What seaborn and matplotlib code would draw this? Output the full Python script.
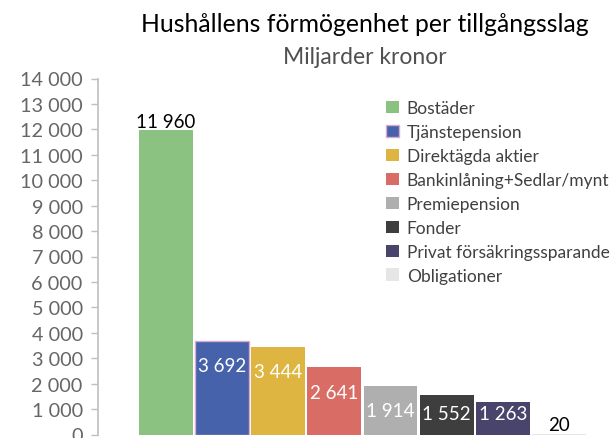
import matplotlib
matplotlib.use('Agg')
import matplotlib.pyplot as plt
from matplotlib.patches import Patch
from matplotlib.ticker import FuncFormatter
import seaborn as sns

# Data
categories = ['Bostäder', 'Tjänstepension', 'Direktägda aktier', 'Bankinlåning+Sedlar/mynt',
              'Premiepension', 'Fonder', 'Privat försäkringssparande', 'Obligationer']
values = [11960, 3692, 3444, 2641, 1914, 1552, 1263, 20]
colors = ['#8bc181', '#4562aa', '#ddb540', '#d96c64', '#afafaf', '#3e3e3e', '#48446b', '#e6e6e6']
label_inside = [False, True, True, True, True, True, True, False]

sns.set_style('white')
plt.rcParams['font.family'] = ['Lato', 'DejaVu Sans']

fig = plt.figure(figsize=(6.14, 4.39), dpi=100)
ax = fig.add_axes([98 / 614, 3.5 / 439, 1 - 98 / 614, (436 - 80) / 439])

sns.barplot(x=categories, y=values, hue=categories, palette=colors, width=0.96,
            dodge=False, legend=False, ax=ax, saturation=1, linewidth=0)

# pinkish selection edge on the blue bar, like the original
ax.patches[1].set_edgecolor('#d9a9d3')
ax.patches[1].set_linewidth(1)

ax.set_ylim(0, 14000)
ax.set_xlim(-1.21, 7.98)
ax.set_yticks(range(0, 14001, 1000))
ax.yaxis.set_major_formatter(FuncFormatter(lambda v, p: f'{v:,.0f}'.replace(',', ' ')))
ax.tick_params(axis='y', labelsize=14.3, colors='#666666', length=5, width=1, direction='out',
               left=True, pad=6)
ax.tick_params(axis='y', color='#bfbfbf')
ax.set_xticks([])
ax.set_xlabel('')
ax.set_ylabel('')
for s in ['top', 'right', 'bottom']:
    ax.spines[s].set_visible(False)
ax.spines['left'].set_color('#bfbfbf')
ax.spines['left'].set_linewidth(1.2)

# value labels (inside labels kept above the axis bottom, as in Excel)
units_per_px = 14000 / 356
for i, (v, inside) in enumerate(zip(values, label_inside)):
    txt = f'{v:,}'.replace(',', ' ')
    if inside:
        y = max(v - 25 * units_per_px, 21 * units_per_px)
        ax.text(i, y, txt, ha='center', va='center', color='white', fontsize=13.5)
    else:
        ax.annotate(txt, (i, v), xytext=(0, 9), textcoords='offset pixels',
                    ha='center', va='center', color='black', fontsize=13.5)

handles = [Patch(facecolor=c, edgecolor='none') for c in colors]
handles[1] = Patch(facecolor=colors[1], edgecolor='#d9a9d3', linewidth=1)
leg = ax.legend(handles, categories, loc='upper left', bbox_to_anchor=(386 / 614, 1 - 101 / 439),
                bbox_transform=fig.transFigure, frameon=False, fontsize=12.5,
                handlelength=0.75, handleheight=0.75, handletextpad=0.45, labelspacing=0.46,
                borderaxespad=0, borderpad=0)
for t in leg.get_texts():
    t.set_color('#404040')

fig.text(365 / 614, 1 - 25 / 439, 'Hushållens förmögenhet per tillgångsslag', ha='center', va='center',
         fontsize=17.8, color='black')
fig.text(365 / 614, 1 - 58 / 439, 'Miljarder kronor', ha='center', va='center',
         fontsize=16.5, color='#505050')

fig.savefig('out.png', dpi=100)
